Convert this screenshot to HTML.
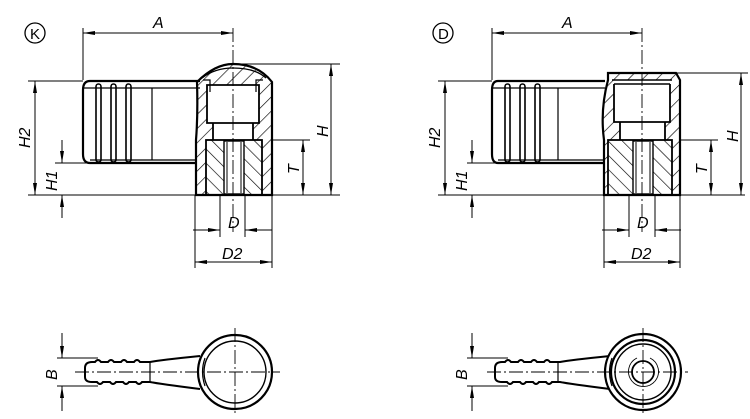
<!DOCTYPE html>
<html><head><meta charset="utf-8"><style>
html,body{margin:0;padding:0;background:#fff}
svg{display:block}
text{font-family:"Liberation Sans",sans-serif;font-style:italic;font-size:16px;fill:#000}
</style></head><body>
<svg width="750" height="419" viewBox="0 0 750 419" xmlns="http://www.w3.org/2000/svg">
<defs>
<pattern id="h1" width="10" height="10" patternUnits="userSpaceOnUse" patternTransform="rotate(45)"><line x1="0" y1="0" x2="0" y2="10" stroke="#000" stroke-width="1.3"/></pattern>
<pattern id="h2" width="10" height="10" patternUnits="userSpaceOnUse" patternTransform="rotate(-45)"><line x1="0" y1="0" x2="0" y2="10" stroke="#000" stroke-width="1.3"/></pattern>
<marker id="ar" viewBox="0 0 12 4" refX="12" refY="2" markerWidth="12" markerHeight="4" markerUnits="userSpaceOnUse" orient="auto-start-reverse"><path d="M0,0L12,2L0,4z" fill="#000"/></marker>
</defs>

<!-- ============ K VARIANT ============ -->
<g fill="none" stroke="#000">
<circle cx="35" cy="33" r="10" stroke-width="1.3"/>
<path d="M197,82 Q215,64 233,64 Q258,64 272,82 L272,195 L196,195 L196,140 Q198,115 197,82Z" fill="url(#h1)" stroke="none"/>
<rect x="207" y="85" width="52" height="38" fill="#fff" stroke="none"/>
<rect x="213" y="123" width="40" height="17" fill="#fff" stroke="none"/>
<rect x="206" y="140" width="56" height="55" fill="#fff" stroke="none"/>
<rect x="206" y="140" width="56" height="55" fill="url(#h2)" stroke="#000" stroke-width="1.8"/>
<rect x="224" y="141" width="20" height="53" fill="#fff" stroke="#000" stroke-width="1.4"/>
<line x1="227" y1="142" x2="227" y2="193"/><line x1="241" y1="142" x2="241" y2="193"/>
<path d="M197,82 Q215,64 233,64 Q258,64 272,82 L272,195 L196,195 L196,140 Q198,115 197,82Z" stroke-width="2.2"/>
<path d="M202,78 Q215,68 233,68 Q255,68 266,78" stroke-width="1.2"/>
<path d="M207,85 L259,85 L259,123 L207,123Z M213,123 L213,140 M253,123 L253,140" stroke-width="1.8"/>
<path d="M203,80 L210,80 L210,92 M263,80 L256,80 L256,92" stroke-width="1.2"/>
<path d="M200,81 L90,81 Q83,81 83,90 L83,154 Q83,163 90,163 L196,163" stroke-width="2.2"/>
<line x1="83" y1="88" x2="200" y2="88" stroke-width="1.2"/><line x1="90" y1="160" x2="196" y2="160" stroke-width="1.2"/>
<line x1="152" y1="88" x2="152" y2="160" stroke-width="1.2"/>
<rect x="96" y="84" width="5" height="78" rx="2.5" stroke-width="1.6"/>
<rect x="111" y="84" width="5" height="78" rx="2.5" stroke-width="1.6"/>
<rect x="126" y="84" width="5" height="78" rx="2.5" stroke-width="1.6"/>
<line x1="233" y1="28" x2="233" y2="232" stroke-dasharray="14,3,2,3" stroke-width="0.9"/>
<g stroke-width="1">
<line x1="28" y1="195" x2="340" y2="195"/>
<line x1="83" y1="28" x2="83" y2="80"/>
<line x1="83" y1="33" x2="233" y2="33" marker-start="url(#ar)" marker-end="url(#ar)"/>
<line x1="235" y1="64" x2="340" y2="64"/>
<line x1="331" y1="64" x2="331" y2="195" marker-start="url(#ar)" marker-end="url(#ar)"/>
<line x1="28" y1="81" x2="83" y2="81"/>
<line x1="35" y1="81" x2="35" y2="195" marker-start="url(#ar)" marker-end="url(#ar)"/>
<line x1="55" y1="163" x2="90" y2="163"/>
<line x1="62" y1="140" x2="62" y2="163" marker-end="url(#ar)"/>
<line x1="62" y1="218" x2="62" y2="195" marker-end="url(#ar)"/>
<line x1="272" y1="140" x2="310" y2="140"/>
<line x1="303" y1="140" x2="303" y2="195" marker-start="url(#ar)" marker-end="url(#ar)"/>
<line x1="220" y1="195" x2="220" y2="237"/><line x1="245" y1="195" x2="245" y2="237"/>
<line x1="193" y1="230" x2="220" y2="230" marker-end="url(#ar)"/>
<line x1="272" y1="230" x2="245" y2="230" marker-end="url(#ar)"/>
<line x1="195" y1="195" x2="195" y2="268"/><line x1="272" y1="195" x2="272" y2="268"/>
<line x1="195" y1="262" x2="272" y2="262" marker-start="url(#ar)" marker-end="url(#ar)"/>
</g>
</g>
<text x="30" y="39" style="font-style:normal;font-size:15px">K</text>
<text x="153" y="28">A</text>
<text x="228" y="228">D</text>
<text x="222" y="259">D2</text>
<text transform="translate(328,137) rotate(-90)">H</text>
<text transform="translate(30,148) rotate(-90)">H2</text>
<text transform="translate(57,191) rotate(-90)">H1</text>
<text transform="translate(299,174) rotate(-90)">T</text>

<!-- K bottom view -->
<g fill="none" stroke="#000">
<path d="M200,356 Q160,360 150,362 L140,362 q-3,-4 -6,0 l-7,0 q-3,-4 -6,0 l-7,0 q-3,-4 -6,0 l-7,0 q-3,-4 -6,0 L92,362 Q85,362 85,368 L85,377 Q85,382 92,382 L97,382 q3,4 6,0 l7,0 q3,4 6,0 l7,0 q3,4 6,0 l7,0 q3,4 6,0 L150,382 Q160,384 200,389" stroke-width="2"/>
<line x1="150" y1="362" x2="150" y2="382" stroke-width="1.2"/>
<circle cx="235" cy="372" r="37" fill="#fff" stroke-width="2.2"/>
<circle cx="235" cy="372" r="31" stroke-width="1.4"/>
<path d="M205,358 Q200,372 205,386" stroke-width="1.2"/>
<g stroke-width="0.9" stroke-dasharray="14,3,2,3">
<line x1="75" y1="372" x2="280" y2="372"/><line x1="235" y1="328" x2="235" y2="416"/></g>
<g stroke-width="1">
<line x1="57" y1="358" x2="98" y2="358"/><line x1="57" y1="386" x2="98" y2="386"/>
<line x1="62" y1="333" x2="62" y2="358" marker-end="url(#ar)"/>
<line x1="62" y1="411" x2="62" y2="386" marker-end="url(#ar)"/>
</g>
</g>
<text transform="translate(57,380) rotate(-90)">B</text>

<!-- ============ D VARIANT ============ -->
<g fill="none" stroke="#000">
<circle cx="443" cy="33" r="10" stroke-width="1.3"/>
<path d="M608,73 L676,73 L680,80 L680,195 L604,195 L604,140 Q600,110 608,80Z" fill="url(#h1)" stroke="none"/>
<rect x="614" y="80" width="56" height="42" fill="#fff" stroke="none"/>
<rect x="620" y="122" width="45" height="18" fill="#fff" stroke="none"/>
<rect x="608" y="140" width="64" height="55" fill="#fff" stroke="none"/>
<rect x="608" y="140" width="64" height="55" fill="url(#h2)" stroke="#000" stroke-width="1.8"/>
<rect x="633" y="141" width="20" height="53" fill="#fff" stroke="#000" stroke-width="1.4"/>
<line x1="636" y1="142" x2="636" y2="193"/><line x1="650" y1="142" x2="650" y2="193"/>
<path d="M608,73 L676,73 L680,80 L680,195 L604,195 L604,140 Q600,110 608,80Z" stroke-width="2.2"/>
<line x1="612" y1="80" x2="672" y2="80" stroke-width="1.6"/><line x1="614" y1="84" x2="670" y2="84" stroke-width="1.6"/>
<path d="M614,84 L614,122 L670,122 L670,84 M620,122 L620,140 M665,122 L665,140" stroke-width="1.8"/>
<path d="M605,81 L498,81 Q492,81 492,90 L492,154 Q492,163 498,163 L603,163" stroke-width="2.2"/>
<line x1="492" y1="88" x2="605" y2="88" stroke-width="1.2"/><line x1="498" y1="160" x2="603" y2="160" stroke-width="1.2"/>
<line x1="558" y1="88" x2="558" y2="160" stroke-width="1.2"/>
<rect x="505" y="84" width="5" height="78" rx="2.5" stroke-width="1.6"/>
<rect x="520" y="84" width="5" height="78" rx="2.5" stroke-width="1.6"/>
<rect x="535" y="84" width="5" height="78" rx="2.5" stroke-width="1.6"/>
<line x1="642" y1="28" x2="642" y2="232" stroke-dasharray="14,3,2,3" stroke-width="0.9"/>
<g stroke-width="1">
<line x1="438" y1="195" x2="745" y2="195"/>
<line x1="492" y1="28" x2="492" y2="80"/>
<line x1="492" y1="33" x2="642" y2="33" marker-start="url(#ar)" marker-end="url(#ar)"/>
<line x1="676" y1="73" x2="748" y2="73"/>
<line x1="741" y1="73" x2="741" y2="195" marker-start="url(#ar)" marker-end="url(#ar)"/>
<line x1="438" y1="81" x2="492" y2="81"/>
<line x1="445" y1="81" x2="445" y2="195" marker-start="url(#ar)" marker-end="url(#ar)"/>
<line x1="467" y1="163" x2="500" y2="163"/>
<line x1="472" y1="140" x2="472" y2="163" marker-end="url(#ar)"/>
<line x1="472" y1="218" x2="472" y2="195" marker-end="url(#ar)"/>
<line x1="680" y1="140" x2="718" y2="140"/>
<line x1="711" y1="140" x2="711" y2="195" marker-start="url(#ar)" marker-end="url(#ar)"/>
<line x1="629" y1="195" x2="629" y2="237"/><line x1="655" y1="195" x2="655" y2="237"/>
<line x1="602" y1="230" x2="629" y2="230" marker-end="url(#ar)"/>
<line x1="681" y1="230" x2="655" y2="230" marker-end="url(#ar)"/>
<line x1="604" y1="195" x2="604" y2="268"/><line x1="680" y1="195" x2="680" y2="268"/>
<line x1="604" y1="262" x2="680" y2="262" marker-start="url(#ar)" marker-end="url(#ar)"/>
</g>
</g>
<text x="438" y="39" style="font-style:normal;font-size:15px">D</text>
<text x="562" y="28">A</text>
<text x="637" y="228">D</text>
<text x="631" y="259">D2</text>
<text transform="translate(738,142) rotate(-90)">H</text>
<text transform="translate(440,148) rotate(-90)">H2</text>
<text transform="translate(467,191) rotate(-90)">H1</text>
<text transform="translate(707,174) rotate(-90)">T</text>

<!-- D bottom view -->
<g fill="none" stroke="#000">
<path d="M610,356 Q570,360 560,362 L550,362 q-3,-4 -6,0 l-7,0 q-3,-4 -6,0 l-7,0 q-3,-4 -6,0 l-7,0 q-3,-4 -6,0 L502,362 Q495,362 495,368 L495,377 Q495,382 502,382 L507,382 q3,4 6,0 l7,0 q3,4 6,0 l7,0 q3,4 6,0 l7,0 q3,4 6,0 L560,382 Q570,384 610,389" stroke-width="2"/>
<line x1="558" y1="362" x2="558" y2="382" stroke-width="1.2"/>
<circle cx="643" cy="372" r="38" fill="#fff" stroke-width="2.2"/>
<circle cx="643" cy="372" r="32" stroke-width="2.2"/>
<circle cx="643" cy="372" r="28" stroke-width="1.4"/>
<circle cx="643" cy="372" r="11" stroke-width="1.8"/>
<path d="M637,358 A15,15 0 1 0 650,358" stroke-width="0.9"/>
<path d="M612,358 Q607,372 612,386" stroke-width="1.2"/>
<g stroke-width="0.9" stroke-dasharray="14,3,2,3">
<line x1="487" y1="372" x2="688" y2="372"/><line x1="643" y1="328" x2="643" y2="416"/></g>
<g stroke-width="1">
<line x1="467" y1="358" x2="508" y2="358"/><line x1="467" y1="386" x2="508" y2="386"/>
<line x1="472" y1="333" x2="472" y2="358" marker-end="url(#ar)"/>
<line x1="472" y1="411" x2="472" y2="386" marker-end="url(#ar)"/>
</g>
</g>
<text transform="translate(467,380) rotate(-90)">B</text>
</svg>
</body></html>
